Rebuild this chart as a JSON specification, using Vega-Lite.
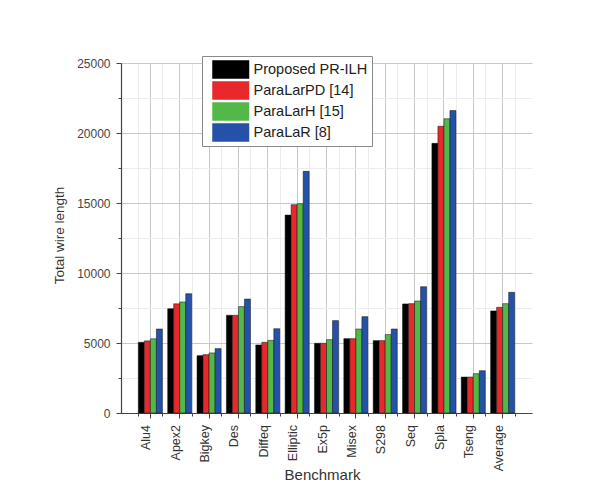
{
  "$schema": "https://vega.github.io/schema/vega-lite/v6.json",
  "width": 411,
  "height": 350,
  "autosize": {"type": "none"},
  "padding": {"left": 121, "top": 63, "right": 75, "bottom": 81},
  "background": "white",
  "config": {"view": {"stroke": null}, "font": "Liberation Sans"},
  "data": {
    "values": [
      {"b": "Alu4", "s": "Proposed PR-ILH", "v": 5050},
      {"b": "Alu4", "s": "ParaLarPD [14]", "v": 5150},
      {"b": "Alu4", "s": "ParaLarH [15]", "v": 5300},
      {"b": "Alu4", "s": "ParaLaR [8]", "v": 6000},
      {"b": "Apex2", "s": "Proposed PR-ILH", "v": 7450},
      {"b": "Apex2", "s": "ParaLarPD [14]", "v": 7800},
      {"b": "Apex2", "s": "ParaLarH [15]", "v": 7930},
      {"b": "Apex2", "s": "ParaLaR [8]", "v": 8520},
      {"b": "Bigkey", "s": "Proposed PR-ILH", "v": 4100},
      {"b": "Bigkey", "s": "ParaLarPD [14]", "v": 4170},
      {"b": "Bigkey", "s": "ParaLarH [15]", "v": 4290},
      {"b": "Bigkey", "s": "ParaLaR [8]", "v": 4600},
      {"b": "Des", "s": "Proposed PR-ILH", "v": 6980},
      {"b": "Des", "s": "ParaLarPD [14]", "v": 6980},
      {"b": "Des", "s": "ParaLarH [15]", "v": 7600},
      {"b": "Des", "s": "ParaLaR [8]", "v": 8140},
      {"b": "Diffeq", "s": "Proposed PR-ILH", "v": 4860},
      {"b": "Diffeq", "s": "ParaLarPD [14]", "v": 5050},
      {"b": "Diffeq", "s": "ParaLarH [15]", "v": 5190},
      {"b": "Diffeq", "s": "ParaLaR [8]", "v": 6020},
      {"b": "Elliptic", "s": "Proposed PR-ILH", "v": 14140},
      {"b": "Elliptic", "s": "ParaLarPD [14]", "v": 14880},
      {"b": "Elliptic", "s": "ParaLarH [15]", "v": 14950},
      {"b": "Elliptic", "s": "ParaLaR [8]", "v": 17260},
      {"b": "Ex5p", "s": "Proposed PR-ILH", "v": 4980},
      {"b": "Ex5p", "s": "ParaLarPD [14]", "v": 4980},
      {"b": "Ex5p", "s": "ParaLarH [15]", "v": 5240},
      {"b": "Ex5p", "s": "ParaLaR [8]", "v": 6600},
      {"b": "Misex", "s": "Proposed PR-ILH", "v": 5310},
      {"b": "Misex", "s": "ParaLarPD [14]", "v": 5310},
      {"b": "Misex", "s": "ParaLarH [15]", "v": 6000},
      {"b": "Misex", "s": "ParaLaR [8]", "v": 6880},
      {"b": "S298", "s": "Proposed PR-ILH", "v": 5170},
      {"b": "S298", "s": "ParaLarPD [14]", "v": 5170},
      {"b": "S298", "s": "ParaLarH [15]", "v": 5600},
      {"b": "S298", "s": "ParaLaR [8]", "v": 6000},
      {"b": "Seq", "s": "Proposed PR-ILH", "v": 7790},
      {"b": "Seq", "s": "ParaLarPD [14]", "v": 7810},
      {"b": "Seq", "s": "ParaLarH [15]", "v": 8000},
      {"b": "Seq", "s": "ParaLaR [8]", "v": 9020},
      {"b": "Spla", "s": "Proposed PR-ILH", "v": 19260},
      {"b": "Spla", "s": "ParaLarPD [14]", "v": 20480},
      {"b": "Spla", "s": "ParaLarH [15]", "v": 21020},
      {"b": "Spla", "s": "ParaLaR [8]", "v": 21600},
      {"b": "Tseng", "s": "Proposed PR-ILH", "v": 2570},
      {"b": "Tseng", "s": "ParaLarPD [14]", "v": 2570},
      {"b": "Tseng", "s": "ParaLarH [15]", "v": 2810},
      {"b": "Tseng", "s": "ParaLaR [8]", "v": 3020},
      {"b": "Average", "s": "Proposed PR-ILH", "v": 7290},
      {"b": "Average", "s": "ParaLarPD [14]", "v": 7550},
      {"b": "Average", "s": "ParaLarH [15]", "v": 7810},
      {"b": "Average", "s": "ParaLaR [8]", "v": 8620}
    ]
  },
  "layer": [
    {
      "mark": {"type": "bar", "opacity": 0},
      "encoding": {
        "x": {
          "field": "b", "type": "nominal", "sort": null,
          "scale": {"paddingInner": 0.18, "paddingOuter": 0.59},
          "axis": {
            "orient": "bottom", "tickBand": "extent", "labels": false, "domain": false,
            "title": null, "tickSize": 3, "tickColor": "#444", "grid": true,
            "gridColor": "#ececec", "gridWidth": 1
          }
        },
        "xOffset": {"field": "s", "sort": ["Proposed PR-ILH", "ParaLarPD [14]", "ParaLarH [15]", "ParaLaR [8]"]},
        "y": {
          "field": "v", "type": "quantitative",
          "scale": {"domain": [0, 25000], "nice": false},
          "axis": {
            "orient": "left", "values": [2500, 7500, 12500, 17500, 22500], "labels": false,
            "domain": false, "title": null, "tickSize": 3, "tickColor": "#444",
            "grid": true, "gridColor": "#ececec", "gridWidth": 1
          }
        }
      }
    },
    {
      "mark": {"type": "bar", "stroke": "#111", "strokeWidth": 0.5},
      "encoding": {
        "x": {
          "field": "b", "type": "nominal", "sort": null,
          "scale": {"paddingInner": 0.18, "paddingOuter": 0.59},
          "axis": {
            "orient": "bottom", "title": "Benchmark", "titleFontSize": 15, "titleFontWeight": "normal",
            "titleColor": "#333", "titleX": 201, "titleY": 66, "titleBaseline": "alphabetic", "titleAlign": "center",
            "labelAngle": 270, "labelAlign": "right", "labelBaseline": "alphabetic",
            "labelFontSize": 12.5, "labelColor": "#333", "labelPadding": 6.5,
            "tickSize": 5, "tickColor": "#444", "domainColor": "#444", "domainWidth": 1.2,
            "grid": true, "gridColor": "#c8c8c8", "gridWidth": 1
          }
        },
        "xOffset": {"field": "s", "sort": ["Proposed PR-ILH", "ParaLarPD [14]", "ParaLarH [15]", "ParaLaR [8]"]},
        "y": {
          "field": "v", "type": "quantitative",
          "scale": {"domain": [0, 25000], "nice": false},
          "axis": {
            "orient": "left", "values": [0, 5000, 10000, 15000, 20000, 25000], "format": "d",
            "title": "Total wire length", "titleFontSize": 13.5, "titleFontWeight": "normal",
            "titleColor": "#333", "titleX": -55, "titleY": 172, "titleAngle": 270,
            "labelFontSize": 12, "labelColor": "#444", "labelPadding": 6,
            "tickSize": 5, "tickColor": "#444", "domainColor": "#444", "domainWidth": 1.2,
            "grid": true, "gridColor": "#c8c8c8", "gridWidth": 1
          }
        },
        "color": {
          "field": "s", "type": "nominal",
          "sort": ["Proposed PR-ILH", "ParaLarPD [14]", "ParaLarH [15]", "ParaLaR [8]"],
          "scale": {
            "domain": ["Proposed PR-ILH", "ParaLarPD [14]", "ParaLarH [15]", "ParaLaR [8]"],
            "range": ["#000000", "#e8282b", "#52b848", "#2352a8"]
          },
          "legend": {
            "orient": "none", "legendX": 81, "legendY": -7, "title": null, "direction": "vertical",
            "symbolType": "M-1,-1H3V1H-1Z", "symbolSize": 342, "symbolStrokeWidth": 0, "symbolOpacity": 1,
            "labelFontSize": 14.5, "labelFont": "Liberation Sans", "labelColor": "#222", "labelOffset": 22.5,
            "labelLimit": 300, "strokeColor": "#888", "fillColor": "white", "padding": 4,
            "symbolOffset": 6, "rowPadding": 2
          }
        }
      }
    }
  ],
  "resolve": {"axis": {"x": "independent", "y": "independent"}}
}
